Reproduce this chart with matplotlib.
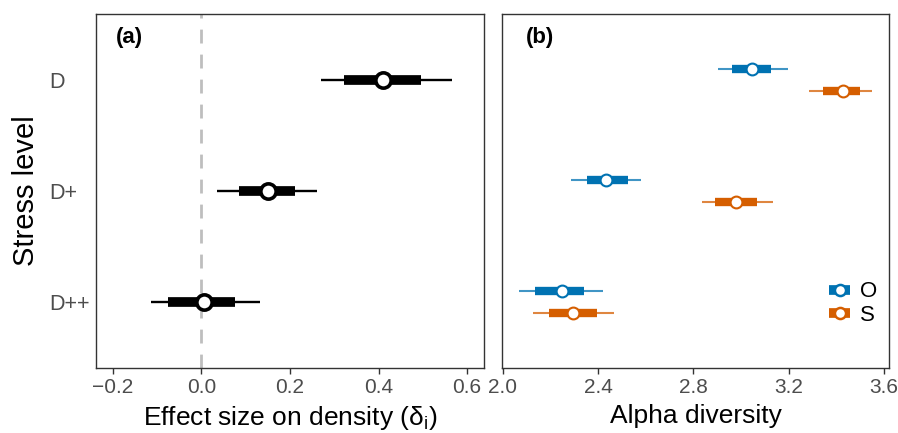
import matplotlib.pyplot as plt
from matplotlib.lines import Line2D

plt.rcParams['font.family'] = ['Liberation Sans', 'DejaVu Sans']

# stress levels, top to bottom
levels = ["D", "D+", "D++"]
ypos = [3, 2, 1]

# (a) effect size on density: median, 50% and 95% intervals
delta_med = [0.409, 0.151, 0.005]
delta_lo50 = [0.321, 0.084, -0.075]
delta_hi50 = [0.497, 0.212, 0.075]
delta_lo95 = [0.269, 0.036, -0.113]
delta_hi95 = [0.565, 0.260, 0.133]

# (b) alpha diversity by group
groups = ["O", "S"]
alpha_med = {"O": [3.046, 2.434, 2.249], "S": [3.428, 2.979, 2.295]}
alpha_lo50 = {"O": [2.963, 2.354, 2.136], "S": [3.344, 2.891, 2.194]}
alpha_hi50 = {"O": [3.126, 2.526, 2.341], "S": [3.499, 3.067, 2.396]}
alpha_lo95 = {"O": [2.904, 2.287, 2.068], "S": [3.285, 2.836, 2.127]}
alpha_hi95 = {"O": [3.198, 2.580, 2.421], "S": [3.549, 3.134, 2.467]}

colors = {"O": "#0072B2", "S": "#D55E00"}
dodge = {"O": 0.1, "S": -0.1}

fig = plt.figure(figsize=(8.98, 4.33), dpi=100)
ax1 = fig.add_axes([0.1069, 0.150, 0.4320, 0.8176])
ax2 = fig.add_axes([0.5587, 0.150, 0.4316, 0.8176])

# panel a
ax1.axvline(0, color="#BEBEBE", lw=2, ls=(0, (5, 4)), zorder=1)
for y, m, l50, h50, l95, h95 in zip(ypos, delta_med, delta_lo50, delta_hi50, delta_lo95, delta_hi95):
    ax1.plot([l95, h95], [y, y], color="black", lw=1.7, solid_capstyle="butt", zorder=2)
    ax1.plot([l50, h50], [y, y], color="black", lw=7, solid_capstyle="butt", zorder=3)
    ax1.plot(m, y, "o", ms=11, mfc="white", mec="black", mew=2.6, zorder=4)

ax1.set_xlim(-0.238, 0.638)
ax1.set_xticks([-0.2, 0.0, 0.2, 0.4, 0.6])
ax1.set_xticklabels(["\u22120.2", "0.0", "0.2", "0.4", "0.6"])
ax1.set_yticks(ypos)
ax1.set_yticklabels(levels, ha="left")
ax1.set_xlabel("Effect size on density ($\\mathregular{\\delta_i}$)", fontsize=19, labelpad=5)
ax1.set_ylabel("Stress level", fontsize=21, labelpad=6)
ax1.text(0.052, 0.935, "(a)", transform=ax1.transAxes, fontsize=16, fontweight="bold", va="center")

# panel b
for g in groups:
    c = colors[g]
    for y, m, l50, h50, l95, h95 in zip(ypos, alpha_med[g], alpha_lo50[g], alpha_hi50[g], alpha_lo95[g], alpha_hi95[g]):
        yy = y + dodge[g]
        ax2.plot([l95, h95], [yy, yy], color=c, lw=1.5, alpha=0.75, solid_capstyle="butt", zorder=2)
        ax2.plot([l50, h50], [yy, yy], color=c, lw=6, solid_capstyle="butt", zorder=3)
        ax2.plot(m, yy, "o", ms=8.5, mfc="white", mec=c, mew=1.5, zorder=4)

ax2.set_xlim(1.996, 3.622)
ax2.set_xticks([2.0, 2.4, 2.8, 3.2, 3.6])
ax2.set_yticks([])
ax2.set_xlabel("Alpha diversity", fontsize=19, labelpad=5)
ax2.text(0.062, 0.935, "(b)", transform=ax2.transAxes, fontsize=16, fontweight="bold", va="center")

handles = [(Line2D([], [], color=colors[g], lw=7, solid_capstyle="butt"),
            Line2D([], [], ls="", marker="o", ms=8, mfc="white", mec=colors[g], mew=1.8))
           for g in groups]
ax2.legend(handles, groups, loc="center left", bbox_to_anchor=(0.845, 0.182), frameon=False,
           fontsize=16, handlelength=0.95, handletextpad=0.45, labelspacing=0.12,
           borderpad=0, borderaxespad=0)

for ax in (ax1, ax2):
    ax.set_ylim(0.4, 3.6)
    for s in ax.spines.values():
        s.set_color("#333333")
        s.set_linewidth(1.0)
    ax.tick_params(axis="both", colors="#333333", labelcolor="#4D4D4D", width=1)
    ax.tick_params(axis="x", length=4, labelsize=15)

ax1.tick_params(axis="y", length=0, pad=34, labelsize=15.5)

fig.savefig("out.png", dpi=100)
